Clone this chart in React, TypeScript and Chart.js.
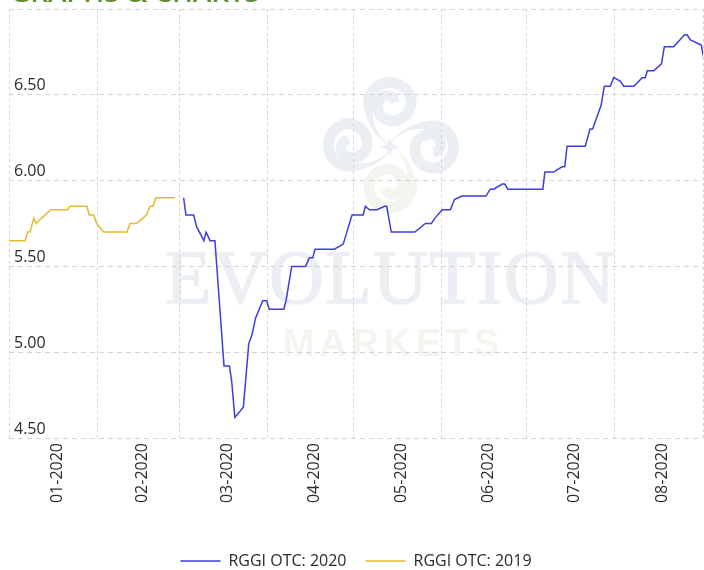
import React, { useEffect, useRef } from "react";
import { Chart, registerables } from "chart.js";

Chart.register(...registerables);

const monthLabels = ["01-2020", "02-2020", "03-2020", "04-2020", "05-2020", "06-2020", "07-2020", "08-2020"];
const monthDays = [31, 29, 31, 30, 31, 30, 31, 31];

// day offset from 1 Jan 2020, value
const days2019 = [0, 5.6, 6.6, 7.4, 8.7, 9.5, 12.7, 14.7, 20.6, 21.4, 27.4, 28.2, 29.8, 30.8, 33.3, 41.5, 42.5, 44.9, 48.4, 49.6, 50.6, 51.6, 58.4];
const values2019 = [5.65, 5.65, 5.7, 5.7, 5.78, 5.75, 5.8, 5.83, 5.83, 5.85, 5.85, 5.8, 5.8, 5.75, 5.7, 5.7, 5.75, 5.75, 5.8, 5.85, 5.85, 5.9, 5.9];

const days2020 = [61.4, 62.2, 64.9, 66, 68.5, 69.3, 70.7, 72.4, 75.6, 77.5, 78.3, 79.4, 82.4, 84.3, 85.4, 86.7, 89.2, 90.6, 91.5, 96.6, 97.4, 99.4, 104.3, 105.6, 106.8, 107.6, 114.4, 117.5, 120.6, 124.5, 125.3, 126.7, 129.4, 132, 132.8, 134.4, 142.7, 146.4, 148.5, 149.7, 152.3, 155.2, 156.6, 159.3, 167.7, 169.2, 170.4, 173.4, 174.3, 175.4, 187.7, 188.4, 191.5, 194.4, 195.4, 196.2, 202.6, 204.3, 205.2, 208.2, 209.3, 211.4, 212.6, 214.9, 216.1, 219.7, 222.6, 223.7, 224.4, 226.7, 229.4, 230.4, 233.7, 237.5, 238.4, 239.6, 243.4, 244.4];
const values2020 = [5.9, 5.8, 5.8, 5.73, 5.65, 5.7, 5.65, 5.65, 4.92, 4.92, 4.83, 4.62, 4.68, 5.05, 5.1, 5.2, 5.3, 5.3, 5.25, 5.25, 5.3, 5.5, 5.5, 5.55, 5.55, 5.6, 5.6, 5.63, 5.8, 5.8, 5.85, 5.83, 5.83, 5.85, 5.85, 5.7, 5.7, 5.75, 5.75, 5.78, 5.83, 5.83, 5.89, 5.91, 5.91, 5.95, 5.95, 5.98, 5.98, 5.95, 5.95, 6.05, 6.05, 6.08, 6.08, 6.2, 6.2, 6.3, 6.3, 6.44, 6.55, 6.55, 6.6, 6.58, 6.55, 6.55, 6.6, 6.6, 6.64, 6.64, 6.68, 6.78, 6.78, 6.85, 6.85, 6.82, 6.79, 6.7];

const boundaries = monthDays.reduce<number[]>((acc, d) => [...acc, acc[acc.length - 1] + d], [0]);
const midpoints = monthDays.map((d, i) => boundaries[i] + d / 2);

const FONT = "'Open Sans', sans-serif";

function spacedText(ctx: any, text: string, x: number, y: number, width: number, font: string, color: string, stroke = 0) {
  ctx.font = font;
  ctx.fillStyle = color;
  ctx.textAlign = "left";
  ctx.textBaseline = "alphabetic";
  ctx.letterSpacing = "0px";
  const w = ctx.measureText(text).width;
  ctx.letterSpacing = (width - w) / (text.length - 1) + "px";
  ctx.fillText(text, x, y);
  if (stroke) {
    ctx.strokeStyle = color;
    ctx.lineWidth = stroke;
    ctx.strokeText(text, x, y);
  }
  ctx.letterSpacing = "0px";
}

function spiral(ctx: any, cx: number, cy: number, start: number, color: string) {
  const outer: number[][] = [];
  const inner: number[][] = [];
  const N = 120;
  for (let i = 0; i <= N; i++) {
    const t = i / N;
    const a = start + t * Math.PI * 3.4;
    const tail = 20 * Math.pow(Math.max(0, 1 - t / 0.14), 2);
    const coil = t < 0.42 ? 21.5 : 21.5 - 17 * ((t - 0.42) / 0.58);
    const r = coil + tail;
    const w = Math.min(11, 0.5 + t * 70);
    outer.push([cx + Math.cos(a) * (r + w / 2), cy + Math.sin(a) * (r + w / 2)]);
    inner.push([cx + Math.cos(a) * Math.max(0, r - w / 2), cy + Math.sin(a) * Math.max(0, r - w / 2)]);
  }
  ctx.fillStyle = color;
  ctx.beginPath();
  outer.forEach((p, i) => (i ? ctx.lineTo(p[0], p[1]) : ctx.moveTo(p[0], p[1])));
  inner.reverse().forEach((p) => ctx.lineTo(p[0], p[1]));
  ctx.closePath();
  ctx.fill();
}

const watermark = {
  id: "watermark",
  beforeDraw(chart: any) {
    const ctx = chart.ctx;
    ctx.save();
    spacedText(ctx, "GRAPHS & CHARTS", 10, 2, 250, "600 28px " + FONT, "#5f8f35");
    const blue = "#ebeff3";
    const green = "#f3f6ee";
    spiral(ctx, 390, 104, Math.PI / 2, blue);
    spiral(ctx, 350, 145, 0.1, blue);
    spiral(ctx, 432, 147, Math.PI + 0.1, blue);
    spiral(ctx, 390, 186, Math.PI * 1.5, green);
    const sx = 390, sy = 147, s = 12;
    ctx.fillStyle = blue;
    ctx.beginPath();
    ctx.moveTo(sx, sy - s);
    ctx.quadraticCurveTo(sx, sy, sx + s, sy);
    ctx.quadraticCurveTo(sx, sy, sx, sy + s);
    ctx.quadraticCurveTo(sx, sy, sx - s, sy);
    ctx.quadraticCurveTo(sx, sy, sx, sy - s);
    ctx.fill();
    spacedText(ctx, "EVOLUTION", 165, 303, 450, "76px 'Liberation Serif', serif", blue, 1.5);
    spacedText(ctx, "MARKETS", 283, 356, 216, "bold 38px 'Liberation Sans', sans-serif", green);
    ctx.restore();
  },
};

export default function App() {
  const ref = useRef<HTMLCanvasElement>(null);
  useEffect(() => {
    document.body.style.margin = "0";
    const chart = new Chart(ref.current as HTMLCanvasElement, {
      type: "line",
      plugins: [watermark],
      data: {
        datasets: [
          {
            label: "RGGI OTC: 2020",
            data: days2020.map((x, i) => ({ x, y: values2020[i] })),
            borderColor: "#3d3de0",
            backgroundColor: "#3d3de0",
            borderWidth: 1.5,
            pointRadius: 0,
            tension: 0,
          },
          {
            label: "RGGI OTC: 2019",
            data: days2019.map((x, i) => ({ x, y: values2019[i] })),
            borderColor: "#e6b92e",
            backgroundColor: "#e6b92e",
            borderWidth: 1.5,
            pointRadius: 0,
            tension: 0,
          },
        ],
      },
      options: {
        animation: false,
        responsive: false,
        maintainAspectRatio: false,
        layout: { padding: { left: 9, top: 9, right: 1, bottom: 0 } },
        plugins: {
          tooltip: { enabled: false },
          legend: {
            position: "bottom",
            labels: {
              boxWidth: 40,
              boxHeight: 0,
              padding: 19,
              color: "#2b2b2b",
              font: { family: FONT, size: 16 },
            },
          },
        },
        scales: {
          x: {
            type: "linear",
            min: 0,
            max: 244,
            border: { display: false, dash: [3, 3] },
            afterBuildTicks(scale: any) {
              scale.ticks = [...boundaries, ...midpoints].sort((a, b) => a - b).map((value) => ({ value }));
            },
            afterFit(scale: any) {
              scale.height = 96;
              scale.paddingLeft = 0;
              scale.paddingRight = 0;
            },
            grid: {
              drawTicks: false,
              lineWidth: 1,
              color: (c: any) => (boundaries.includes(c.tick?.value) ? "#d4d4d4" : "rgba(0,0,0,0)"),
            },
            ticks: {
              autoSkip: false,
              minRotation: 90,
              maxRotation: 90,
              padding: 5,
              labelOffset: 4,
              color: "#2b2b2b",
              font: { family: FONT, size: 16 },
              callback: (v: any) => {
                const i = midpoints.indexOf(v);
                return i >= 0 ? monthLabels[i] : "";
              },
            },
          },
          y: {
            min: 4.5,
            max: 7,
            border: { display: false, dash: [5, 4] },
            afterFit(scale: any) {
              scale.width = 0;
              scale.paddingTop = 0;
              scale.paddingBottom = 0;
            },
            grid: { drawTicks: false, color: "#d4d4d4", lineWidth: 1 },
            ticks: {
              stepSize: 0.5,
              mirror: true,
              padding: 5,
              labelOffset: -9,
              color: "#2b2b2b",
              font: { family: FONT, size: 16 },
              callback: (v: any) => (v >= 7 ? "" : Number(v).toFixed(2)),
            },
          },
        },
      } as any,
    });
    return () => chart.destroy();
  }, []);
  return (
    <div style={{ width: 704, height: 570, overflow: "hidden", background: "#fff" }}>
      <canvas ref={ref} width={704} height={579} style={{ display: "block" }} />
    </div>
  );
}
